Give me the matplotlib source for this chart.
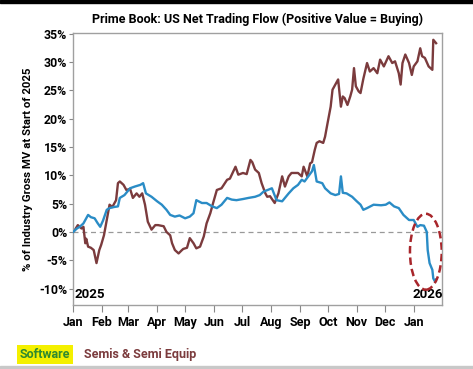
import matplotlib
matplotlib.use("Agg")
import matplotlib.pyplot as plt
import matplotlib.dates as mdates
from matplotlib.patches import Ellipse, Rectangle
from matplotlib.ticker import FuncFormatter
import pandas as pd

plt.rcParams['font.family'] = ['Roboto', 'DejaVu Sans']
plt.rcParams['font.weight'] = 'bold'

start = pd.Timestamp("2025-01-01")

# Software: day offset from 2025-01-01, % of industry gross MV
sw_day = [0, 4, 7, 11, 13, 16, 19, 23, 26, 29, 32, 36, 39, 44, 48, 50, 55, 61, 66, 72,
          75, 78, 84, 90, 95, 100, 104, 109, 114, 120, 125, 129, 132, 138, 143, 149, 154,
          159, 165, 170, 175, 182, 188, 195, 200, 204, 213, 218, 224, 231, 236, 241, 245,
          248, 252, 256, 258, 261, 267, 270, 276, 281, 285, 287, 289, 293, 299, 304, 308,
          311, 315, 322, 330, 335, 339, 344, 349, 354, 360, 365, 369, 372, 376, 379, 380,
          382, 385, 386, 388, 389]
sw_val = [0.0, 0.6, 0.9, 1.5, 2.1, 3.0, 2.6, 2.4, 1.6, 0.9, 2.0, 3.9, 4.2, 4.4, 4.5, 6.0,
          6.5, 7.7, 8.0, 8.3, 8.6, 6.8, 6.2, 5.4, 4.8, 3.9, 3.0, 2.7, 2.9, 2.4, 2.7, 3.3,
          5.6, 5.1, 5.1, 4.5, 4.2, 4.8, 6.0, 5.7, 5.6, 5.8, 6.0, 6.2, 6.5, 7.1, 7.7, 5.6,
          5.4, 6.8, 7.7, 8.3, 9.2, 8.9, 9.8, 10.7, 11.8, 8.9, 8.6, 7.7, 6.8, 6.5, 6.7, 9.8,
          6.9, 6.8, 6.2, 5.4, 4.8, 3.9, 4.2, 4.8, 4.7, 4.8, 5.2, 4.5, 4.2, 3.0, 2.1, 2.1,
          0.9, 1.2, 1.1, 0.0, -3.2, -5.5, -6.7, -8.2, -8.8, -8.4]

# Semis & Semi Equip
semi_day = [0, 2, 5, 9, 11, 13, 14, 16, 19, 22, 25, 28, 30, 33, 36, 39, 42, 46, 48, 50,
            54, 57, 61, 64, 68, 71, 74, 77, 80, 84, 88, 91, 97, 100, 104, 106, 109, 113,
            116, 118, 122, 125, 129, 132, 136, 140, 143, 147, 150, 154, 159, 165, 168, 174,
            177, 182, 186, 190, 192, 195, 199, 202, 206, 208, 211, 216, 220, 224, 227, 231,
            234, 241, 245, 247, 251, 254, 256, 259, 261, 264, 268, 270, 272, 276, 278, 282,
            284, 287, 289, 291, 294, 297, 299, 301, 303, 306, 308, 311, 315, 318, 322, 326,
            329, 333, 338, 342, 345, 349, 351, 353, 356, 360, 363, 365, 369, 372, 374, 377,
            381, 385, 386, 389]
semi_val = [0.0, 0.4, 1.2, 0.6, 0.9, -2.0, -1.2, -2.6, -2.8, -3.2, -5.5, -3.2, -2.3, -0.6,
            2.1, 4.8, 4.4, 5.6, 8.6, 8.9, 8.3, 7.4, 7.6, 6.0, 6.8, 6.2, 6.8, 4.8, 1.8, 0.4,
            1.2, 1.2, 1.0, 0.0, -0.6, -2.0, -3.2, -3.8, -3.3, -3.0, -2.8, -1.1, -2.0, -2.9,
            -2.6, -0.8, 1.5, 3.3, 5.1, 7.4, 7.7, 9.2, 9.4, 11.5, 10.1, 10.4, 10.2, 12.7,
            12.3, 11.0, 10.4, 8.6, 6.8, 6.2, 6.3, 5.1, 6.8, 9.8, 8.0, 9.8, 10.4, 10.4, 9.8,
            11.5, 9.8, 12.1, 12.3, 14.5, 15.7, 16.0, 15.7, 16.8, 18.6, 22.1, 25.1, 26.3,
            26.9, 22.1, 23.9, 23.6, 22.4, 23.9, 25.1, 28.9, 25.7, 24.8, 24.5, 27.0, 29.8,
            28.3, 28.9, 28.0, 30.4, 29.2, 31.0, 29.8, 30.1, 28.0, 26.0, 29.8, 31.3, 29.8,
            27.7, 29.2, 30.1, 32.4, 31.0, 30.7, 29.2, 28.6, 33.9, 33.3]

month_labels = ["Jan", "Feb", "Mar", "Apr", "May", "Jun", "Jul", "Aug", "Sep", "Oct",
                "Nov", "Dec", "Jan"]
y_ticks = [-10, -5, 0, 5, 10, 15, 20, 25, 30, 35]

blue = "#2a8cc6"
brown = "#7b3b3d"

sw_dates = start + pd.to_timedelta(sw_day, unit="D")
semi_dates = start + pd.to_timedelta(semi_day, unit="D")

fig = plt.figure(figsize=(4.73, 3.69), dpi=100)
ax = fig.add_axes([0.1537, 0.1734, 0.7801, 0.7372])

ax.axhline(0, color="#999999", lw=0.9, ls=(0, (4, 3)), zorder=1)
ax.plot(sw_dates, sw_val, color=blue, lw=1.7, zorder=3)
ax.plot(semi_dates, semi_val, color=brown, lw=1.7, zorder=2)

ax.set_xlim(pd.Timestamp("2024-12-31 12:00"), pd.Timestamp("2026-01-31"))
ax.set_ylim(-12.9, 35.1)

ticks = pd.date_range("2025-01-01", periods=13, freq="MS")
ax.set_xticks(ticks)
ax.set_xticklabels(month_labels)
ax.set_yticks(y_ticks)
ax.yaxis.set_major_formatter(FuncFormatter(lambda v, p: f"{v:.0f}%"))

for s in ax.spines.values():
    s.set_color("#a0a0a0")
    s.set_linewidth(1.0)
ax.tick_params(axis="x", direction="out", length=5, width=0.8, color="#888888",
               labelsize=9, pad=3)
ax.tick_params(axis="y", direction="out", length=3, width=0.8, color="#888888",
               labelsize=8.8, pad=1)
for lab in ax.get_xticklabels() + ax.get_yticklabels():
    lab.set_fontweight("bold")

ax.set_ylabel("% of Industry Gross MV at Start of 2025", fontsize=8.2, fontweight="bold",
              labelpad=4)
ax.set_title("Prime Book: US Net Trading Flow (Positive Value = Buying)", fontsize=9,
             fontweight="bold", pad=7)

ax.text(0.005, 0.015, "2025", transform=ax.transAxes, ha="left", va="bottom",
        fontsize=9.5, fontweight="bold")
ax.text(1.003, 0.015, "2026", transform=ax.transAxes, ha="right", va="bottom",
        fontsize=9.5, fontweight="bold")

ell_c = mdates.date2num(pd.Timestamp("2026-01-14"))
ax.add_patch(Ellipse((ell_c, -3.5), 34, 13.4, fill=False, ec="#a8262b", lw=1.8,
                     ls=(0, (3, 1.6)), zorder=4))

# legend row under the chart
fig.text(0.042, 0.040, "Software", fontsize=9, fontweight="bold", color="#2f8a2f",
         ha="left", va="center",
         bbox=dict(boxstyle="square,pad=0.25", fc="#f4f000", ec="none"))
fig.text(0.178, 0.040, "Semis & Semi Equip", fontsize=9, fontweight="bold", color=brown,
         ha="left", va="center")

fig.patches.append(Rectangle((0, 0.992), 1, 0.008, transform=fig.transFigure,
                             color="black", zorder=10))
fig.patches.append(Rectangle((0, 0), 1, 0.008, transform=fig.transFigure,
                             color="#c8c8c8", zorder=10))

fig.savefig("out.png", dpi=100)
